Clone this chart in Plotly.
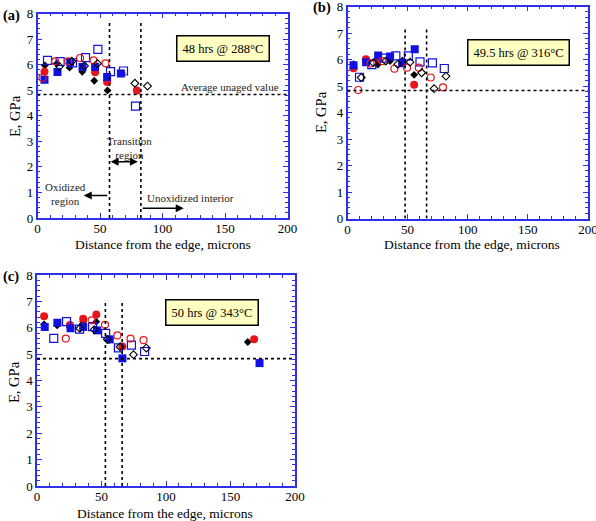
import plotly.graph_objects as go

# ---------------- data ----------------
# Panel (a): 48 hrs @ 288°C
a_blk_fill_x = [5.9, 15.5, 25.6, 35.8, 45.4, 56.0, 67.5]
a_blk_fill_y = [5.97, 6.04, 5.88, 5.72, 5.37, 4.99, 5.67]
a_red_fill_x = [5.6, 46.1, 55.7, 79.5]
a_red_fill_y = [5.72, 5.70, 5.32, 4.99]
a_blu_fill_x = [5.6, 16.0, 26.1, 36.0, 46.1, 55.7, 66.7]
a_blu_fill_y = [5.41, 5.71, 6.10, 5.91, 5.91, 5.52, 5.65]
a_blu_open_x = [8.0, 18.1, 28.0, 38.4, 48.3, 58.4, 68.8, 78.4]
a_blu_open_y = [6.17, 6.12, 6.07, 6.27, 6.60, 5.73, 5.75, 4.38]
a_red_open_x = [4.0, 14.1, 24.5, 34.1, 44.8, 54.4]
a_red_open_y = [5.48, 6.13, 6.13, 6.26, 6.17, 6.05]
a_blk_open_x = [17.6, 27.5, 37.6, 48.0, 77.9, 88.0]
a_blk_open_y = [5.93, 6.13, 5.95, 6.04, 5.27, 5.16]

# Panel (b): 49.5 hrs @ 316°C
b_blk_fill_x = [5.0, 15.3, 25.2, 35.4, 45.6, 55.4]
b_blk_fill_y = [5.82, 5.90, 5.81, 5.94, 5.96, 5.42]
b_red_fill_x = [5.0, 15.3, 25.5, 55.4]
b_red_fill_y = [5.67, 6.01, 6.02, 5.05]
b_blu_fill_x = [5.0, 15.5, 25.5, 35.4, 45.4, 55.9]
b_blu_fill_y = [5.78, 5.90, 6.15, 6.11, 5.86, 6.39]
b_blu_open_x = [10.0, 20.2, 30.5, 40.2, 50.6, 60.3, 70.6, 80.5]
b_blu_open_y = [5.33, 5.81, 6.05, 6.14, 6.14, 5.91, 5.87, 5.66]
b_red_open_x = [8.9, 19.1, 29.0, 39.0, 49.5, 59.3, 69.2, 79.4]
b_red_open_y = [4.85, 5.85, 5.94, 5.65, 5.69, 5.69, 5.32, 4.95]
b_blk_open_x = [11.4, 21.6, 31.8, 41.8, 52.0, 61.7, 72.0, 81.9]
b_blk_open_y = [5.32, 5.88, 5.94, 5.82, 5.90, 5.50, 4.90, 5.37]

# Panel (c): 50 hrs @ 343°C
c_blk_fill_x = [5.5, 15.6, 25.5, 35.8, 46.0, 55.8, 163.4]
c_blk_fill_y = [6.13, 6.09, 6.01, 6.23, 6.23, 5.53, 5.46]
c_red_fill_x = [5.5, 25.5, 35.8, 46.0, 66.2, 168.3]
c_red_fill_y = [6.44, 6.10, 6.34, 6.50, 5.29, 5.56]
c_blu_fill_x = [6.0, 15.8, 26.0, 35.8, 46.5, 56.4, 66.2, 172.5]
c_blu_fill_y = [6.03, 6.19, 5.98, 6.03, 5.90, 5.56, 4.84, 4.66]
c_blu_open_x = [13.0, 22.9, 33.0, 43.1, 53.2, 63.1, 73.2, 83.4]
c_blu_open_y = [5.60, 6.23, 5.95, 6.04, 5.79, 5.24, 5.34, 5.10]
c_red_open_x = [22.3, 42.3, 52.7, 62.3, 72.5, 82.6]
c_red_open_y = [5.59, 6.28, 6.11, 5.71, 5.59, 5.53]
c_blk_open_x = [33.2, 44.4, 54.5, 64.4, 74.8, 84.7]
c_blk_open_y = [5.98, 5.93, 5.56, 5.28, 4.98, 5.23]

panel_labels = ["(a)", "(b)", "(c)"]
panel_titles = ["48 hrs @ 288°C", "49.5 hrs @ 316°C", "50 hrs @ 343°C"]
unaged_value = 4.83
a_bounds = [57.6, 82.7]
b_bounds = [47.9, 65.8]
c_bounds = [53.0, 66.0]
x_title = "Distance from the edge, microns"
y_title = "E, GPa"

# ---------------- figure ----------------
W, H = 596, 521
FONT = "Liberation Serif, Times New Roman, serif"
RED = "#e8141b"
BLUE = "#1010e0"
BLK = "black"
FRAME = "#3030e8"

fig = go.Figure()

panels = [
    ("", [a_blk_fill_x, a_blk_fill_y, a_red_fill_x, a_red_fill_y, a_blu_fill_x, a_blu_fill_y,
          a_blu_open_x, a_blu_open_y, a_red_open_x, a_red_open_y, a_blk_open_x, a_blk_open_y]),
    ("2", [b_blk_fill_x, b_blk_fill_y, b_red_fill_x, b_red_fill_y, b_blu_fill_x, b_blu_fill_y,
           b_blu_open_x, b_blu_open_y, b_red_open_x, b_red_open_y, b_blk_open_x, b_blk_open_y]),
    ("3", [c_blk_fill_x, c_blk_fill_y, c_red_fill_x, c_red_fill_y, c_blu_fill_x, c_blu_fill_y,
           c_blu_open_x, c_blu_open_y, c_red_open_x, c_red_open_y, c_blk_open_x, c_blk_open_y]),
]

styles = [
    dict(symbol="diamond", size=6, color=BLK, line=dict(width=0)),
    dict(symbol="circle", size=8, color=RED, line=dict(width=0)),
    dict(symbol="square", size=8, color=BLUE, line=dict(width=0)),
    dict(symbol="square-open", size=8, color=BLUE, line=dict(width=1.2)),
    dict(symbol="circle-open", size=7, color=RED, line=dict(width=1.2)),
    dict(symbol="diamond-open", size=6, color=BLK, line=dict(width=1.1)),
]

for sfx, arrs in panels:
    for i, st in enumerate(styles):
        fig.add_trace(go.Scatter(
            x=arrs[2 * i], y=arrs[2 * i + 1], mode="markers",
            marker=st, xaxis="x" + sfx, yaxis="y" + sfx, showlegend=False,
            hoverinfo="skip"))

def px2dx(x0, x1):
    return [x0 / W, x1 / W]

def px2dy(top, bottom):
    return [1 - bottom / H, 1 - top / H]

domains = [
    (px2dx(37.5, 287.5), px2dy(13.5, 218)),
    (px2dx(347.5, 588), px2dy(6.5, 218.5)),
    (px2dx(37, 295), px2dy(275, 486)),
]

def xaxis(dom, anchor):
    return dict(domain=dom, anchor=anchor, range=[0, 200], tickvals=[0, 50, 100, 150, 200],
                ticks="inside", ticklen=5, tickwidth=1, tickcolor=FRAME,
                minor=dict(dtick=10, ticks="inside", ticklen=3, tickcolor=FRAME, showgrid=False),
                showline=True, linecolor=FRAME, linewidth=1.5, mirror="allticks",
                showgrid=False, zeroline=False, automargin=False,
                ticklabeloverflow="allow", ticklabelstandoff=-2,
                tickfont=dict(family=FONT, size=13, color="black"))

def yaxis(dom, anchor):
    return dict(domain=dom, anchor=anchor, range=[0, 8], dtick=1,
                ticks="inside", ticklen=5, tickwidth=1, tickcolor=FRAME,
                minor=dict(dtick=0.2, ticks="inside", ticklen=3, tickcolor=FRAME, showgrid=False),
                showline=True, linecolor=FRAME, linewidth=1.5, mirror="allticks",
                showgrid=False, zeroline=False, automargin=False,
                ticklabeloverflow="allow",
                tickfont=dict(family=FONT, size=13, color="black"))

fig.update_layout(
    width=W, height=H, margin=dict(l=0, r=0, t=0, b=0, autoexpand=False),
    paper_bgcolor="white", plot_bgcolor="white",
    xaxis=xaxis(domains[0][0], "y"), yaxis=yaxis(domains[0][1], "x"),
    xaxis2=xaxis(domains[1][0], "y2"), yaxis2=yaxis(domains[1][1], "x2"),
    xaxis3=xaxis(domains[2][0], "y3"), yaxis3=yaxis(domains[2][1], "x3"),
)

shapes = []
annotations = []
line_style = dict(color="black", width=1.6, dash="dot")
vtops = [7.63, 7.24, 7.04]
for k, (sfx, bounds) in enumerate(zip(["", "2", "3"], [a_bounds, b_bounds, c_bounds])):
    xr, yr = "x" + sfx, "y" + sfx
    shapes.append(dict(type="line", xref=xr, yref=yr, x0=0, x1=200, y0=unaged_value, y1=unaged_value, line=line_style))
    for b in bounds:
        shapes.append(dict(type="line", xref=xr, yref=yr, x0=b, x1=b, y0=0, y1=vtops[k], line=line_style))

# title boxes
box_pos = [(148, 6.62), (142.3, 6.28), (135.7, 6.57)]
for k, sfx in enumerate(["", "2", "3"]):
    annotations.append(dict(xref="x" + sfx, yref="y" + sfx, x=box_pos[k][0], y=box_pos[k][1],
                            text=panel_titles[k], showarrow=False,
                            font=dict(family=FONT, size=12.5, color="black"),
                            bgcolor="#ffffc2", bordercolor="black", borderwidth=1.5, borderpad=5))

# axis titles (paper pixel positions)
title_font = dict(family=FONT, size=13.5, color="black")
for (px, py) in [(163, 244), (472, 244), (165, 513)]:
    annotations.append(dict(xref="paper", yref="paper", x=px / W, y=1 - py / H, xanchor="center", yanchor="middle",
                            text=x_title, showarrow=False, font=title_font))
for (px, py) in [(15, 116), (321, 112), (14, 382)]:
    annotations.append(dict(xref="paper", yref="paper", x=px / W, y=1 - py / H, xanchor="center", yanchor="middle",
                            text=y_title, showarrow=False, textangle=-90, font=dict(family=FONT, size=14.5, color="black")))

# panel labels
for lbl, (px, py) in zip(panel_labels, [(1, 15), (311, 8), (1, 276)]):
    annotations.append(dict(xref="paper", yref="paper", x=px / W, y=1 - py / H, xanchor="left", yanchor="middle",
                            text="<b>%s</b>" % lbl, showarrow=False,
                            font=dict(family=FONT, size=14.5, color="black")))

# panel (a) notes
small = dict(family=FONT, size=11, color="#222222")
annotations += [
    dict(xref="x", yref="y", x=154, y=5.12, text="Average unaged value", showarrow=False, font=small),
    dict(xref="x", yref="y", x=73.5, y=2.72, text="Transition<br>region", showarrow=False, font=small),
    dict(xref="x", yref="y", x=22, y=0.95, text="Oxidized<br>region", showarrow=False, font=small),
    dict(xref="x", yref="y", x=122, y=0.77, text="Unoxidized interior", showarrow=False, font=small),
    dict(xref="x", yref="y", x=58.5, y=2.2, ax=81.5, ay=2.2, axref="x", ayref="y", text="",
         showarrow=True, arrowhead=2, arrowside="end+start", arrowsize=1, arrowwidth=1.6, arrowcolor="black"),
    dict(xref="x", yref="y", x=37, y=0.88, ax=57, ay=0.88, axref="x", ayref="y", text="",
         showarrow=True, arrowhead=2, arrowsize=1, arrowwidth=1.6, arrowcolor="black"),
    dict(xref="x", yref="y", x=117, y=0.38, ax=83, ay=0.38, axref="x", ayref="y", text="",
         showarrow=True, arrowhead=2, arrowsize=1, arrowwidth=1.6, arrowcolor="black"),
]

fig.update_layout(shapes=shapes, annotations=annotations)
fig.write_html("out.html", config={"displayModeBar": False},
               post_script="document.body.style.margin='0';document.body.style.padding='0';"
                           "document.documentElement.style.overflow='hidden';")
